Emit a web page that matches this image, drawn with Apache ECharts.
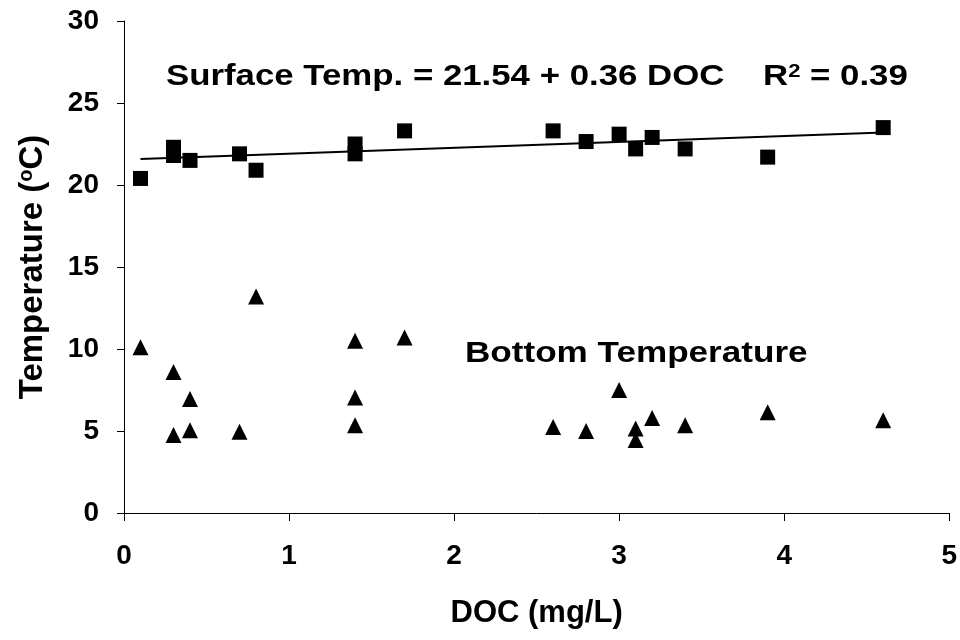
<!DOCTYPE html>
<html>
<head>
<meta charset="utf-8">
<script src="https://cdn.jsdelivr.net/npm/echarts@6/dist/echarts.min.js"></script>
<style>html,body{margin:0;padding:0;background:#fff}#c{width:960px;height:640px}</style>
</head>
<body>
<div id="c"></div>
<script>
// Surface temperature (squares)
const surfaceDOC  = [0.1, 0.3, 0.3, 0.4, 0.7, 0.8, 1.4, 1.4, 1.7, 2.6, 2.8, 3.0, 3.1, 3.2, 3.4, 3.9, 4.6];
const surfaceTemp = [20.4, 22.3, 21.8, 21.5, 21.9, 20.9, 22.5, 21.9, 23.3, 23.3, 22.65, 23.1, 22.2, 22.9, 22.2, 21.7, 23.5];
// Bottom temperature (triangles)
const bottomDOC  = [0.1, 0.3, 0.4, 0.3, 0.4, 0.7, 0.8, 1.4, 1.4, 1.4, 1.7, 2.6, 2.8, 3.0, 3.1, 3.1, 3.2, 3.4, 3.9, 4.6];
const bottomTemp = [10.1, 8.6, 6.95, 4.75, 5.05, 4.95, 13.2, 10.5, 7.05, 5.35, 10.7, 5.25, 5.0, 7.5, 5.15, 4.45, 5.8, 5.35, 6.15, 5.65];
// Regression line endpoints
const trendDOC  = [0.1, 4.6];
const trendTemp = [21.58, 23.2];
const xTicks = [0, 1, 2, 3, 4, 5];
const yTicks = [0, 5, 10, 15, 20, 25, 30];

const zip = (a, b) => a.map((v, i) => [v, b[i]]);
const chart = echarts.init(document.getElementById('c'));
const FONT = 'Liberation Sans, Arial, sans-serif';
chart.setOption({
  animation: false,
  backgroundColor: '#fff',
  grid: { left: 124, right: 8, top: 21, bottom: 127 },
  xAxis: {
    type: 'value', min: xTicks[0], max: xTicks[xTicks.length - 1], interval: 1,
    name: 'DOC (mg/L)', nameLocation: 'middle', nameGap: 85,
    nameTextStyle: { fontFamily: FONT, fontWeight: 'bold', fontSize: 31, color: '#000' },
    axisLine: { lineStyle: { color: '#000', width: 1 } },
    axisTick: { show: true, inside: false, length: 8, lineStyle: { color: '#000' } },
    axisLabel: { fontFamily: FONT, fontWeight: 'bold', fontSize: 28, color: '#000', margin: 29 },
    splitLine: { show: false }
  },
  yAxis: {
    type: 'value', min: yTicks[0], max: yTicks[yTicks.length - 1], interval: 5,
    name: '{t|Temperature (}{s|o}{t|C)}', nameLocation: 'middle', nameGap: 75, nameRotate: 90,
    nameTextStyle: {
      rich: {
        t: { fontFamily: FONT, fontWeight: 'bold', fontSize: 33, color: '#000' },
        s: { fontFamily: FONT, fontWeight: 'bold', fontSize: 20, color: '#000', verticalAlign: 'top', padding: [0, 0, 12, 0] }
      }
    },
    axisLine: { show: true, lineStyle: { color: '#000', width: 1 } },
    axisTick: { show: true, inside: false, length: 7, lineStyle: { color: '#000' } },
    axisLabel: { fontFamily: FONT, fontWeight: 'bold', fontSize: 28, color: '#000', margin: 25 },
    splitLine: { show: false }
  },
  series: [
    {
      type: 'line', data: zip(trendDOC, trendTemp), symbol: 'none',
      lineStyle: { color: '#000', width: 2 }, z: 1
    },
    {
      type: 'scatter', data: zip(surfaceDOC, surfaceTemp), symbol: 'rect', symbolSize: 15,
      itemStyle: { color: '#000', opacity: 1 }, z: 2
    },
    {
      type: 'scatter', data: zip(bottomDOC, bottomTemp), symbol: 'triangle', symbolSize: [16, 16],
      itemStyle: { color: '#000', opacity: 1 }, z: 2
    }
  ],
  graphic: [
    {
      type: 'text', x: 166, y: 62, scaleX: 1.16,
      style: {
        text: '{t|Surface Temp. = 21.54 + 0.36 DOC    R}{s|2}{t| = 0.39}',
        rich: {
          t: { fontFamily: FONT, fontWeight: 'bold', fontSize: 30, lineHeight: 30, fill: '#000' },
          s: { fontFamily: FONT, fontWeight: 'bold', fontSize: 19, fill: '#000', verticalAlign: 'top', lineHeight: 30, padding: [0, 0, 12, 0] }
        }
      }
    },
    {
      type: 'text', x: 465, y: 339, scaleX: 1.17,
      style: { text: 'Bottom Temperature', fontFamily: FONT, fontWeight: 'bold', fontSize: 30, fill: '#000' }
    }
  ]
});
</script>
</body>
</html>
